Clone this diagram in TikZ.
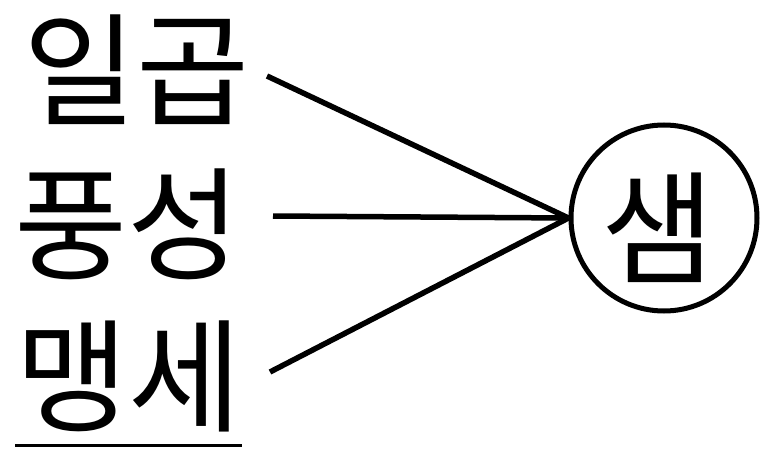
\documentclass[tikz,border=0pt]{standalone}
\usepackage{fontspec}
\setmainfont{Noto Sans CJK KR}
\begin{document}
\begin{tikzpicture}[x=1pt,y=-1pt,
  word/.style={inner sep=0pt,font=\fontsize{123}{123}\selectfont},
  conn/.style={line width=5.5pt}]
\useasboundingbox (0,0) rectangle (764,452);
\node[word] (w1) at (137,70) {일곱};
\node[word] (w2) at (128,224) {풍성};
\node[word] (w3) at (129,376) {맹세};
\draw[line width=3pt] (15,445) -- (242,445);
\node[draw,circle,line width=5pt,minimum size=186pt,inner sep=0pt] (c) at (664,218) {};
\node[word] (s) at (658,228) {샘};
\coordinate (p1) at (267,76);
\coordinate (p2) at (273,216);
\coordinate (p3) at (270,372);
\draw[conn] (p1) -- (c.west);
\draw[conn] (p2) -- (c.west);
\draw[conn] (p3) -- (c.west);
\end{tikzpicture}
\end{document}
